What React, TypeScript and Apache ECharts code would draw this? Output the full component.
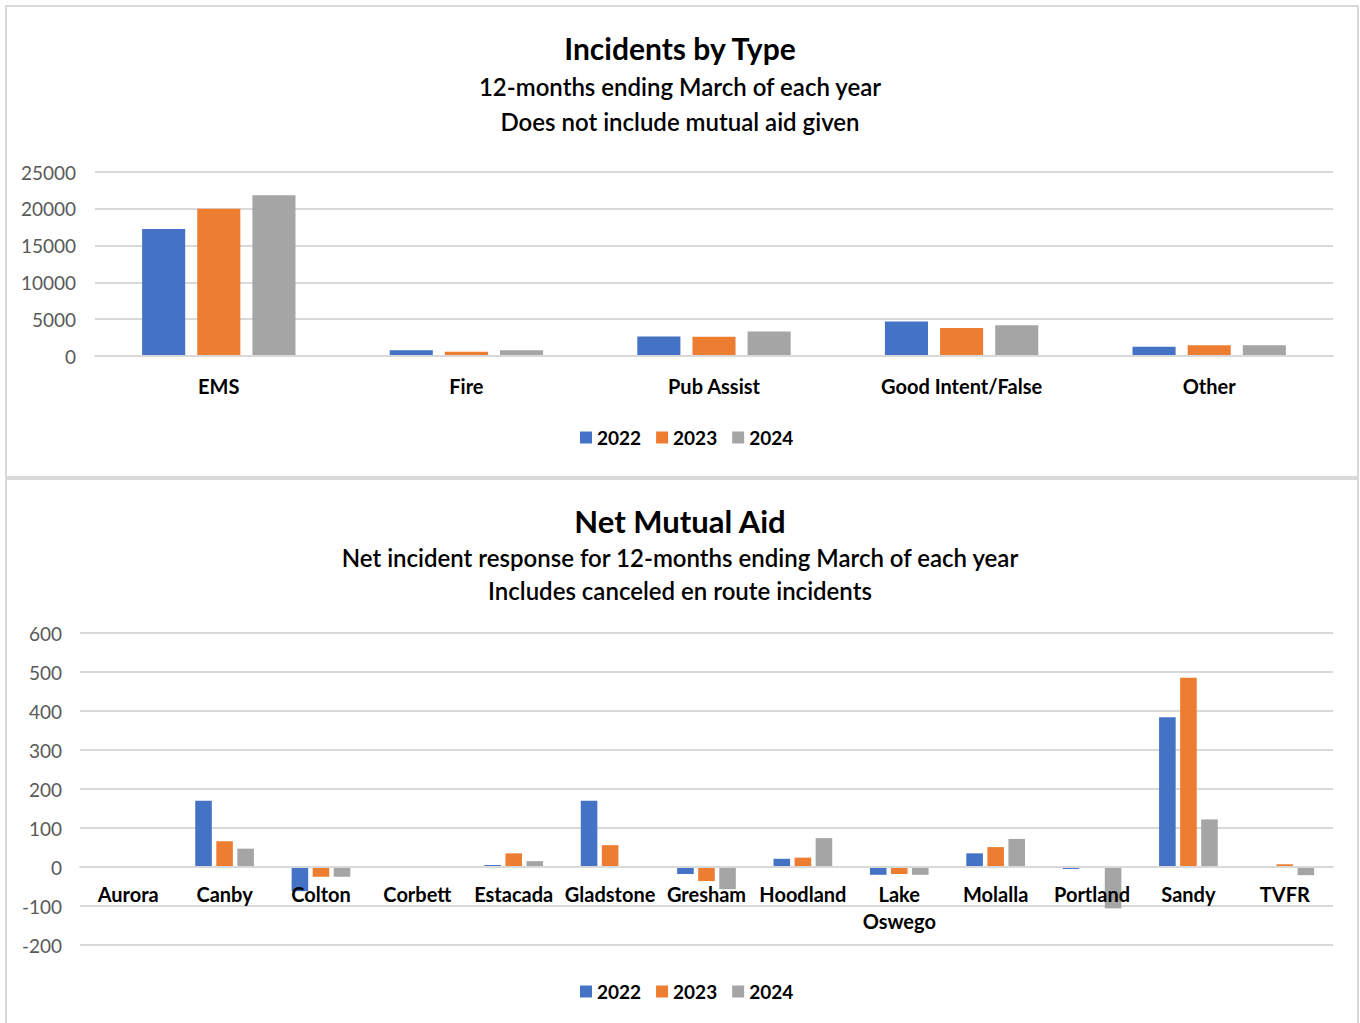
import React, { useEffect, useRef } from "react";
import * as echarts from "echarts";

const years = ["2022", "2023", "2024"];
const typeCategories = ["EMS", "Fire", "Pub Assist", "Good Intent/False", "Other"];
const type2022 = [17250, 780, 2640, 4680, 1270];
const type2023 = [20000, 590, 2620, 3820, 1450];
const type2024 = [21850, 770, 3320, 4180, 1450];
const typeTicks = [0, 5000, 10000, 15000, 20000, 25000];

const aidCategories = [
  "Aurora", "Canby", "Colton", "Corbett", "Estacada", "Gladstone", "Gresham",
  "Hoodland", "Lake\nOswego", "Molalla", "Portland", "Sandy", "TVFR",
];
const aid2022 = [0, 170, -62, 0, 5, 170, -18, 21, -20, 35, -5, 384, 0];
const aid2023 = [0, 66, -25, 0, 35, 56, -36, 24, -18, 51, 0, 485, 7];
const aid2024 = [0, 47, -25, 0, 15, 0, -57, 74, -20, 72, -106, 122, -21];
const aidTicks = [-200, -100, 0, 100, 200, 300, 400, 500, 600];

const colors = ["#4472C4", "#ED7D31", "#A5A5A5"];
const FONT = "Lato";

export default function App() {
  const ref = useRef<HTMLDivElement>(null);
  useEffect(() => {
    document.body.style.margin = "0";
    const chart = echarts.init(ref.current!, null, { renderer: "svg" });
    const gridLine = { lineStyle: { color: "#d9d9d9", width: 2 } };
    const yLabel = {
      color: "#595959", fontFamily: FONT, fontSize: 19,
      formatter: (v: number) => String(v),
    };
    const xLabel = { color: "#000", fontFamily: FONT, fontSize: 20, fontWeight: "bold" as const };
    const mkTitle = (text: string, cy: number, size: number, weight: any) => ({
      text, left: "center", top: cy - size / 2 - 2, padding: 0,
      textStyle: { color: "#000", fontFamily: FONT, fontSize: size, fontWeight: weight },
    });
    const legendBase = {
      data: years, icon: "rect", itemWidth: 12, itemHeight: 12, itemGap: 15,
      left: 580, padding: 0,
      textStyle: { color: "#000", fontFamily: FONT, fontSize: 19, fontWeight: "bold" as const },
    };
    const typeData = [type2022, type2023, type2024];
    const aidData = [aid2022, aid2023, aid2024];
    const series: any[] = [];
    years.forEach((y, i) => {
      series.push({
        name: y, type: "bar", xAxisIndex: 0, yAxisIndex: 0, data: typeData[i],
        barWidth: "17.4%", barGap: "28%", itemStyle: { color: colors[i] },
      });
    });
    years.forEach((y, i) => {
      series.push({
        name: y, type: "bar", xAxisIndex: 1, yAxisIndex: 1, data: aidData[i],
        barWidth: "17.2%", barGap: "27%", itemStyle: { color: colors[i] },
      });
    });
    chart.setOption({
      animation: false,
      color: colors,
      title: [
        mkTitle("Incidents by Type", 50, 30, "bold"),
        mkTitle("12-months ending March of each year", 88, 24, 600),
        mkTitle("Does not include mutual aid given", 123, 24, 600),
        mkTitle("Net Mutual Aid", 523, 31, "bold"),
        mkTitle("Net incident response for 12-months ending March of each year", 559, 24, 600),
        mkTitle("Includes canceled en route incidents", 592, 24, 600),
      ],
      legend: [
        { ...legendBase, top: 428 },
        { ...legendBase, top: 982 },
      ],
      graphic: [
        { type: "rect", shape: { x: 6, y: 6, width: 1352, height: 471 }, style: { fill: "none", stroke: "#d9d9d9", lineWidth: 2 }, silent: true },
        { type: "rect", shape: { x: 6, y: 479, width: 1352, height: 560 }, style: { fill: "none", stroke: "#d9d9d9", lineWidth: 2 }, silent: true },
      ],
      grid: [
        { left: 95, right: 27, top: 172, height: 184 },
        { left: 80, right: 27, top: 633, height: 312 },
      ],
      xAxis: [
        {
          type: "category", gridIndex: 0, data: typeCategories, z: 5,
          axisLine: { show: true, lineStyle: { color: "#d9d9d9", width: 2 } },
          axisTick: { show: false },
          axisLabel: { ...xLabel, margin: 16, lineHeight: 27 },
        },
        {
          type: "category", gridIndex: 1, data: aidCategories, position: "bottom", offset: -78, z: 5,
          axisLine: { show: true, onZero: false, lineStyle: { color: "#d9d9d9", width: 2 } },
          axisTick: { show: false },
          axisLabel: { ...xLabel, margin: 13, lineHeight: 27, interval: 0 },
        },
      ],
      yAxis: [
        {
          type: "value", gridIndex: 0, min: typeTicks[0], max: typeTicks[typeTicks.length - 1], interval: 5000,
          splitLine: gridLine, axisLine: { show: false }, axisTick: { show: false },
          axisLabel: { ...yLabel, margin: 19 },
        },
        {
          type: "value", gridIndex: 1, min: aidTicks[0], max: aidTicks[aidTicks.length - 1], interval: 100,
          splitLine: gridLine, axisLine: { show: false }, axisTick: { show: false },
          axisLabel: { ...yLabel, margin: 18 },
        },
      ],
      series,
    });
    return () => chart.dispose();
  }, []);
  return <div ref={ref} style={{ width: 1360, height: 1023, background: "#fff" }} />;
}
